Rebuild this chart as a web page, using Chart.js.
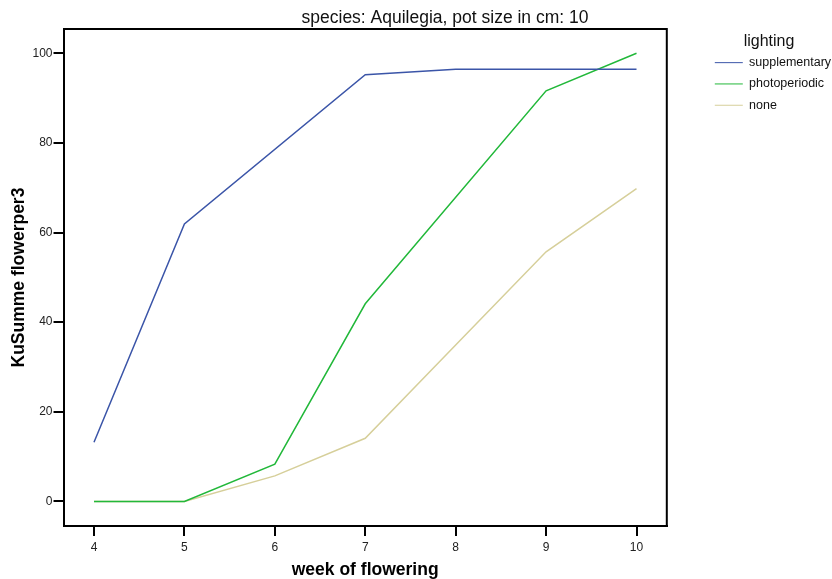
<!DOCTYPE html>
<html>
<head>
<meta charset="utf-8">
<script src="https://cdn.jsdelivr.net/npm/chart.js@4"></script>
<style>
    html, body { margin: 0; padding: 0; background: #fff; }
    #wrap { width: 832px; height: 579px; }
</style>
</head>
<body>
<div id="wrap"><canvas id="chart" width="832" height="579"></canvas></div>
<script>
// Cumulative flowering - Aquilegia, pot size 10 cm

const weeks = [4, 5, 6, 7, 8, 9, 10];
const yTicks = [0, 20, 40, 60, 80, 100];

// null = no value that week (line spans the gap)
const supplementary = [13.2, 61.9, null, 95.2, 96.4, 96.4, 96.4];
const photoperiodic = [0, 0, 8.3, 44.1, null, 91.6, 100];
const none = [0, 0, 5.7, 14.1, 34.9, 55.7, 69.8];

const FONT = '"Liberation Sans", Arial, sans-serif';

function toPoints(values) {
    return weeks.map((w, i) => ({ x: w, y: values[i] }));
}

// Chart title drawn by hand (offset from canvas centre like the original)
const titlePlugin = {
    id: 'plotTitle',
    afterDraw(chart) {
        const ctx = chart.ctx;
        ctx.save();
        ctx.font = '17.5px ' + FONT;
        ctx.fillStyle = '#111';
        ctx.textAlign = 'center';
        ctx.textBaseline = 'alphabetic';
        ctx.fillText('species: Aquilegia, pot size in cm: 10', 445, 23);
        ctx.restore();
    }
};

// Top and right edge of the plot frame
const framePlugin = {
    id: 'frame',
    afterDatasetsDraw(chart) {
        const { ctx, chartArea: a } = chart;
        ctx.save();
        ctx.strokeStyle = '#000';
        ctx.lineWidth = 2;
        ctx.beginPath();
        ctx.moveTo(a.left, a.top);
        ctx.lineTo(a.right, a.top);
        ctx.lineTo(a.right, a.bottom);
        ctx.stroke();
        ctx.restore();
    }
};

const ctx = document.getElementById('chart').getContext('2d');

new Chart(ctx, {
    type: 'line',
    data: {
        datasets: [
            {
                label: 'supplementary',
                data: toPoints(supplementary),
                borderColor: '#3b55a8',
                backgroundColor: '#3b55a8'
            },
            {
                label: 'photoperiodic',
                data: toPoints(photoperiodic),
                borderColor: '#22b83a',
                backgroundColor: '#22b83a'
            },
            {
                label: 'none',
                data: toPoints(none),
                borderColor: '#d6cf9a',
                backgroundColor: '#d6cf9a'
            }
        ]
    },
    options: {
        responsive: false,
        animation: false,
        spanGaps: true,
        elements: {
            line: { borderWidth: 1.5, tension: 0 },
            point: { radius: 0 }
        },
        layout: {
            padding: { top: 29, left: 0, right: 0, bottom: -1.5 }
        },
        plugins: {
            tooltip: { enabled: false },
            title: { display: false },
            legend: {
                position: 'right',
                align: 'start',
                maxWidth: 126,
                title: {
                    display: true,
                    text: 'lighting',
                    color: '#111',
                    font: { family: FONT, size: 16, lineHeight: 0.85 },
                    padding: { top: 5, bottom: 0 }
                },
                labels: {
                    usePointStyle: true,
                    pointStyle: 'line',
                    pointStyleWidth: 28,
                    padding: 8.8,
                    color: '#111',
                    font: { family: FONT, size: 12.5 }
                }
            }
        },
        scales: {
            x: {
                type: 'linear',
                min: 3.663,
                max: 10.335,
                afterBuildTicks: (scale) => {
                    scale.ticks = weeks.map(v => ({ value: v }));
                },
                grid: {
                    drawOnChartArea: false,
                    drawTicks: true,
                    tickLength: 10,
                    lineWidth: 2,
                    color: '#000'
                },
                border: { display: true, color: '#000', width: 2 },
                ticks: {
                    padding: 4.5,
                    color: '#222',
                    font: { family: FONT, size: 12 }
                },
                title: {
                    display: true,
                    text: 'week of flowering',
                    color: '#000',
                    font: { family: FONT, size: 17.5, weight: 'bold' },
                    padding: { top: 0, bottom: 0 }
                }
            },
            y: {
                type: 'linear',
                min: -5.5,
                max: 105.4,
                afterBuildTicks: (scale) => {
                    scale.ticks = yTicks.map(v => ({ value: v }));
                },
                grid: {
                    drawOnChartArea: false,
                    drawTicks: true,
                    tickLength: 10,
                    lineWidth: 2,
                    color: '#000'
                },
                border: { display: true, color: '#000', width: 2 },
                ticks: {
                    padding: 1,
                    color: '#222',
                    font: { family: FONT, size: 12 }
                },
                title: {
                    display: true,
                    text: 'KuSumme flowerper3',
                    color: '#000',
                    font: { family: FONT, size: 17.5, weight: 'bold' },
                    padding: { top: 8.5, bottom: 2 }
                }
            },
            // empty spacer between the plot and the legend
            gap: {
                type: 'linear',
                position: 'right',
                grid: { display: false },
                border: { display: false },
                ticks: { display: false },
                afterFit: (scale) => {
                    scale.width = 39.2;
                }
            }
        }
    },
    plugins: [titlePlugin, framePlugin]
});
</script>
</body>
</html>
